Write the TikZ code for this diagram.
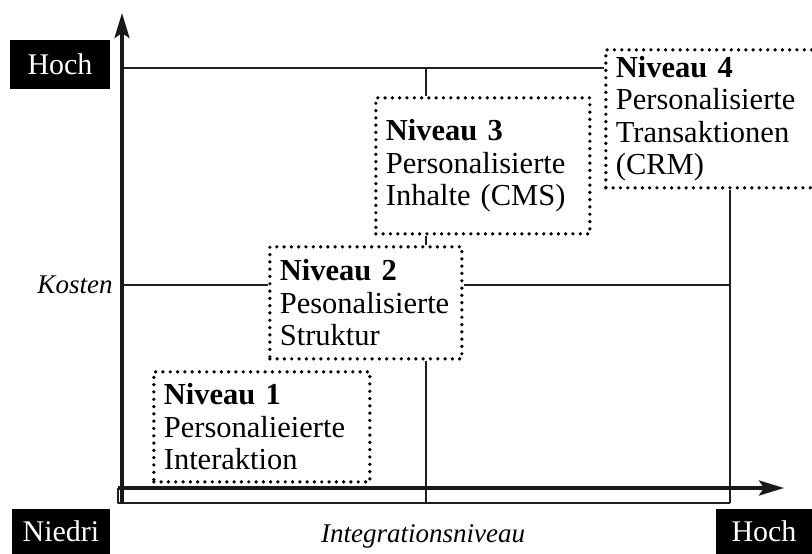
\documentclass[tikz,border=0pt]{standalone}
\usepackage{fontspec}
\setmainfont{Liberation Serif}
\usetikzlibrary{arrows.meta, positioning}

\begin{document}
\begin{tikzpicture}[x=1pt, y=-1pt, line join=round]

  \def\AxX{122}
  \def\AxY{488}
  \def\BaseY{503}
  \def\MidX{426}
  \def\RightX{730}

  % Styles
  \tikzset{
    axis/.style={line width=3.4pt, black!90, -{Stealth[length=25pt, width=15pt, inset=5pt]}},
    grid-line/.style={line width=1.9pt, black!88},
    level-box/.style={draw=black, line width=3.7pt, dash pattern=on 0pt off 7.3pt,
      line cap=round, align=left, anchor=north west, inner xsep=10pt, inner ysep=0pt,
      font=\fontsize{30.5}{32.5}\selectfont},
    tag-box/.style={fill=black, text=white, inner sep=0pt,
      font=\fontsize{30}{32}\selectfont},
    axis-label/.style={font=\itshape\fontsize{27}{30}\selectfont},
  }

  \useasboundingbox (0,0) rectangle (812,554);

  % Level boxes
  \node[level-box, text width=196pt, minimum height=110pt] (b1) at (152,370)
    {\textbf{Niveau 1}\\Personalieierte\\Interaktion};
  \node[level-box, text width=172pt, minimum height=112pt] (b2) at (268,245)
    {\textbf{Niveau 2}\\Pesonalisierte\\Struktur};
  \node[level-box, text width=194pt, minimum height=136pt] (b3) at (374,96)
    {\textbf{Niveau 3}\\Personalisierte\\Inhalte (CMS)};
  \node[level-box, text width=200pt, minimum height=138pt] (b4) at (604,48)
    {\textbf{Niveau 4}\\Personalisierte\\Transaktionen\\(CRM)};

  % Grid lines
  \coordinate (top-l) at (\AxX,68);
  \coordinate (mid-l) at (\AxX,285);
  \coordinate (mid-base) at (\MidX,\BaseY);
  \coordinate (right-base) at (\RightX,\BaseY);
  \coordinate (left-base) at (118,\BaseY);

  \draw[grid-line] (top-l) -- (top-l -| b4.west);
  \draw[grid-line] (mid-base |- top-l) -- (mid-base |- b3.north);
  \draw[grid-line] (mid-base |- b3.south) -- (mid-base |- b2.north);
  \draw[grid-line] (mid-base |- b2.south) -- (mid-base);
  \draw[grid-line] (mid-l) -- (mid-l -| b2.west);
  \draw[grid-line] (mid-l -| b2.east) -- (mid-l -| right-base);
  \draw[grid-line] (right-base |- b4.south) -- (right-base);
  \draw[grid-line] (left-base |- 0,\AxY) -- (left-base) -- (right-base);

  % Axes
  \draw[axis] (\AxX,\BaseY) -- (\AxX,13);
  \draw[axis] (118,\AxY) -- (784,\AxY);

  % Axis tags
  \node[tag-box, minimum width=100pt, minimum height=49pt] (y-high) at (60,64.5) {Hoch};
  \node[tag-box, minimum width=98pt, minimum height=45pt] (x-low) at (61,531) {Niedri};
  \node[tag-box, minimum width=96pt, minimum height=45pt] (x-high) at (764,531) {Hoch};

  % Axis labels
  \node[axis-label] (y-label) at (75,285) {Kosten};
  \node[axis-label] (x-label) at (423,536) {Integrationsniveau};

\end{tikzpicture}
\end{document}
